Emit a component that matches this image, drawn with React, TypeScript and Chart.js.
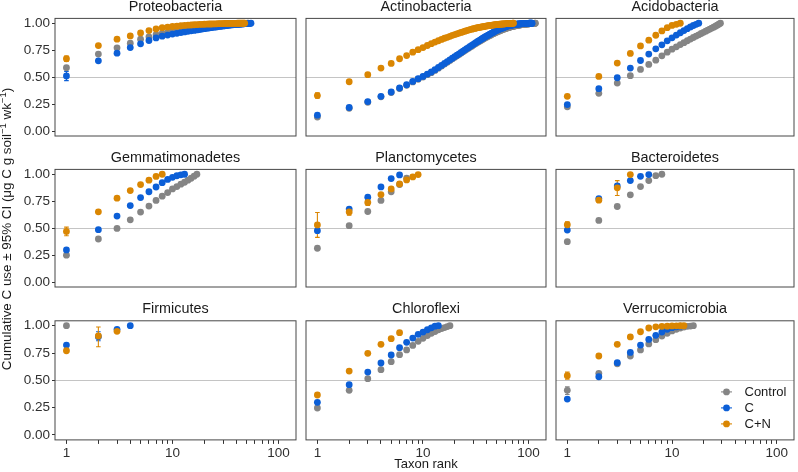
import React, { useEffect, useRef } from "react";
import { Chart, registerables } from "chart.js";
Chart.register(...registerables);

// ---------- labels ----------
const SERIES_NAMES = ["Control", "C", "C+N"];
const SERIES_COLORS = ["#858585", "#0C5FD7", "#DA8602"];
const PANEL_TITLES = [
  "Proteobacteria", "Actinobacteria", "Acidobacteria",
  "Gemmatimonadetes", "Planctomycetes", "Bacteroidetes",
  "Firmicutes", "Chloroflexi", "Verrucomicrobia",
];
const Y_TICKS = [0, 0.25, 0.5, 0.75, 1];
const X_TICKS = [1, 2, 3, 4, 5, 6, 7, 8, 9, 10, 20, 30, 40, 50, 60, 70, 80, 90, 100];
const X_LABELED = [1, 10, 100];
const X_TITLE = "Taxon rank";
const REF_LINE = 0.5;

// ---------- data: cumulative C use by taxon rank (rank = index + 1) ----------
const proteoControl = [0.588,0.714,0.772,0.815,0.852,0.874,0.895,0.907,0.916,0.925,
  0.932,0.938,0.944,0.950,0.954,0.958,0.962,0.965,0.967,0.968,
  0.971,0.973,0.975,0.976,0.978,0.980,0.981,0.983,0.984,0.985,
  0.986,0.987,0.988,0.989,0.990,0.991,0.991,0.992,0.993,0.994,
  0.994,0.995,0.996,0.996,0.997,0.997,0.998,0.998,0.999,0.999,1.0,1.0];
const proteoC = [0.511,0.652,0.723,0.775,0.809,0.840,0.864,0.880,0.890,0.900,
  0.907,0.914,0.920,0.925,0.930,0.934,0.938,0.942,0.946,0.950,
  0.953,0.956,0.959,0.962,0.964,0.966,0.969,0.971,0.973,0.975,
  0.977,0.978,0.980,0.982,0.983,0.985,0.986,0.987,0.988,0.988,
  0.989,0.990,0.991,0.992,0.993,0.994,0.995,0.996,0.996,0.997,
  0.998,0.998,0.999,0.999,1.0];
const proteoCN = [0.671,0.793,0.852,0.883,0.910,0.932,0.947,0.959,0.965,0.970,
  0.973,0.977,0.980,0.982,0.984,0.986,0.988,0.989,0.990,0.991,
  0.992,0.993,0.993,0.994,0.995,0.995,0.996,0.996,0.997,0.997,
  0.998,0.998,0.998,0.998,0.999,0.999,0.999,0.999,0.999,0.999,
  1.0,1.0,1.0,1.0,1.0,1.0,1.0,1.0];

const actinoControl = [0.130,0.212,0.268,0.318,0.358,0.395,0.425,0.456,0.481,0.502,
  0.523,0.542,0.563,0.584,0.603,0.622,0.639,0.655,0.670,0.685,
  0.698,0.711,0.724,0.736,0.748,0.759,0.769,0.779,0.788,0.798,
  0.807,0.815,0.823,0.831,0.838,0.845,0.852,0.859,0.865,0.871,
  0.877,0.882,0.887,0.892,0.897,0.902,0.906,0.911,0.915,0.919,
  0.923,0.926,0.929,0.933,0.936,0.939,0.942,0.945,0.947,0.950,
  0.952,0.955,0.957,0.959,0.961,0.963,0.965,0.967,0.968,0.970,
  0.971,0.973,0.974,0.975,0.977,0.978,0.979,0.980,0.981,0.982,
  0.983,0.984,0.985,0.986,0.986,0.987,0.988,0.988,0.989,0.990,
  0.990,0.991,0.991,0.992,0.992,0.993,0.993,0.994,0.994,0.995,
  0.995,0.996,0.996,0.996,0.997,0.997,0.997,0.998,0.998,0.998,
  0.999,0.999,0.999,0.999,1.0,1.0];
const actinoC = [0.148,0.219,0.274,0.323,0.363,0.400,0.430,0.461,0.486,0.507,
  0.529,0.548,0.569,0.590,0.609,0.628,0.645,0.661,0.676,0.691,
  0.704,0.717,0.730,0.742,0.754,0.765,0.775,0.786,0.795,0.805,
  0.814,0.823,0.831,0.839,0.846,0.854,0.861,0.868,0.875,0.881,
  0.887,0.893,0.898,0.904,0.909,0.914,0.919,0.925,0.930,0.934,
  0.938,0.941,0.945,0.948,0.951,0.954,0.957,0.960,0.963,0.966,
  0.969,0.972,0.974,0.976,0.977,0.979,0.980,0.982,0.983,0.984,
  0.985,0.986,0.987,0.988,0.989,0.990,0.991,0.991,0.992,0.993,
  0.993,0.994,0.994,0.995,0.995,0.996,0.996,0.996,0.997,0.997,
  0.997,0.998,0.998,0.998,0.998,0.999,0.999,0.999,0.999,0.999,
  1.0,1.0,1.0,1.0,1.0,1.0,1.0,1.0];
const actinoCN = [0.330,0.458,0.523,0.585,0.628,0.671,0.700,0.732,0.755,0.775,
  0.794,0.811,0.826,0.838,0.850,0.861,0.870,0.879,0.888,0.895,
  0.902,0.909,0.915,0.921,0.927,0.932,0.937,0.941,0.945,0.949,
  0.952,0.956,0.959,0.961,0.964,0.966,0.968,0.970,0.972,0.975,
  0.976,0.978,0.979,0.981,0.982,0.983,0.985,0.986,0.987,0.988,
  0.989,0.990,0.991,0.991,0.992,0.993,0.993,0.994,0.995,0.995,
  0.996,0.996,0.997,0.997,0.998,0.998,0.998,0.999,0.999,0.999,
  1.0,1.0];

const acidoControl = [0.225,0.351,0.446,0.514,0.572,0.618,0.658,0.698,0.732,0.760,
  0.782,0.802,0.820,0.838,0.853,0.868,0.881,0.893,0.905,0.916,
  0.927,0.937,0.946,0.955,0.964,0.973,0.982,0.991,1.0];
const acidoC = [0.246,0.394,0.495,0.585,0.655,0.714,0.763,0.800,0.837,0.865,
  0.890,0.912,0.932,0.950,0.966,0.979,0.990,1.0];
const acidoCN = [0.323,0.507,0.631,0.720,0.790,0.843,0.889,0.929,0.959,0.980,0.990,1.0];

const gemmaControl = [0.250,0.400,0.498,0.578,0.649,0.705,0.757,0.797,0.830,0.864,
  0.886,0.908,0.926,0.945,0.963,0.982,1.0];
const gemmaC = [0.299,0.486,0.612,0.710,0.784,0.838,0.882,0.922,0.952,0.972,0.986,0.995,1.0];
const gemmaCN = [0.470,0.652,0.778,0.849,0.904,0.945,0.980,1.0];

const planctoControl = [0.314,0.523,0.655,0.757,0.837,0.905,0.963];
const planctoC = [0.477,0.677,0.788,0.883,0.960,0.994];
const planctoCN = [0.530,0.650,0.738,0.812,0.864,0.910,0.947,0.975,0.997];

const bacteroControl = [0.375,0.572,0.701,0.809,0.886,0.941,0.987,1.0];
const bacteroC = [0.483,0.775,0.892,0.941,0.981,0.997];
const bacteroCN = [0.532,0.760,0.874,0.997];

const firmiControl = [1.0];
const firmiC = [0.823,0.900,0.967,1.0];
const firmiCN = [0.771,0.906,0.949];

const chloroControl = [0.247,0.409,0.515,0.598,0.671,0.735,0.778,0.820,0.857,0.885,
  0.910,0.931,0.946,0.962,0.974,0.983,0.992,1.0];
const chloroC = [0.299,0.460,0.576,0.659,0.732,0.799,0.848,0.887,0.921,0.942,0.963,0.981,0.996,1.0];
const chloroCN = [0.366,0.585,0.747,0.830,0.881,0.936];

const verrucoControl = [0.409,0.564,0.652,0.723,0.778,0.833,0.872,0.906,0.930,0.952,
  0.967,0.979,0.988,0.994,0.997,1.0];
const verrucoC = [0.329,0.533,0.662,0.756,0.823,0.875,0.912,0.942,0.967,0.982,0.990,0.996];
const verrucoCN = [0.543,0.723,0.830,0.897,0.945,0.979,0.990,0.994,0.996,0.998,0.999,1.0,1.0];

// 95% CI: [series index (0 Control, 1 C, 2 C+N), rank, low, high]
const proteoErrors = [[0,1,0.575,0.600],[1,1,0.468,0.554],[2,1,0.645,0.697]];
const actinoErrors = [[2,1,0.305,0.355]];
const acidoErrors: number[][] = [];
const gemmaErrors = [[2,1,0.430,0.510]];
const planctoErrors = [[1,1,0.460,0.495],[2,1,0.415,0.645],[2,2,0.620,0.680],[2,3,0.710,0.765]];
const bacteroErrors = [[2,1,0.510,0.560],[1,3,0.870,0.910],[2,3,0.803,0.941]];
const firmiErrors = [[1,2,0.863,0.945],[2,2,0.808,0.988]];
const chloroErrors: number[][] = [];
const verrucoErrors = [[0,1,0.370,0.440],[2,1,0.510,0.575]];

const PANEL_SERIES = [
  [proteoControl, proteoC, proteoCN],
  [actinoControl, actinoC, actinoCN],
  [acidoControl, acidoC, acidoCN],
  [gemmaControl, gemmaC, gemmaCN],
  [planctoControl, planctoC, planctoCN],
  [bacteroControl, bacteroC, bacteroCN],
  [firmiControl, firmiC, firmiCN],
  [chloroControl, chloroC, chloroCN],
  [verrucoControl, verrucoC, verrucoCN],
];
const PANEL_ERRORS = [
  proteoErrors, actinoErrors, acidoErrors,
  gemmaErrors, planctoErrors, bacteroErrors,
  firmiErrors, chloroErrors, verrucoErrors,
];

// ---------- layout ----------
const FONT = "'Liberation Sans', Arial, Helvetica, sans-serif";
const W = 798, H = 472;
const COL_LEFT = [55, 306, 556];
const COL_WIDTH = [242.7, 241.3, 241.3];
const ROW_TOP = [18.4, 169.4, 320.8];
const ROW_HEIGHT = [118.2, 118.2, 119.1];
const Y_AXIS_W = 55;
const X_AXIS_H = 32;
const X_MIN = 0.78, X_MAX = 146.2;
const Y_MIN = -0.045, Y_MAX = 1.045;
const PT_R = 3.4;

function geometry(r: number, c: number) {
  const axisW = c === 0 ? Y_AXIS_W : 0;
  const canvasLeft = c === 0 ? 0 : Math.floor(COL_LEFT[c]) - 4;
  const leftPad = COL_LEFT[c] - canvasLeft - axisW;
  const canvasTop = Math.floor(ROW_TOP[r] - 18);
  const topPad = ROW_TOP[r] - canvasTop;
  const axisH = r === 2 ? X_AXIS_H : 0;
  const canvasBottom = r === 2 ? H : Math.ceil(ROW_TOP[r] + ROW_HEIGHT[r]) + 3;
  const canvasH = canvasBottom - canvasTop;
  const bottomPad = canvasH - topPad - ROW_HEIGHT[r] - axisH;
  const canvasRight = c === 2 ? W : Math.ceil(COL_LEFT[c] + COL_WIDTH[c]) + 2;
  const canvasW = canvasRight - canvasLeft;
  const rightPad = canvasW - leftPad - axisW - COL_WIDTH[c];
  return { canvasLeft, canvasTop, canvasW, canvasH, leftPad, topPad, bottomPad, rightPad, axisW, axisH };
}

function makeDecoPlugin(idx: number) {
  return {
    id: "deco" + idx,
    beforeDatasetsDraw(chart: any) {
      const { ctx, scales } = chart;
      const xs = scales.x, ys = scales.y;
      ctx.save();
      ctx.lineWidth = 1.1;
      for (const e of PANEL_ERRORS[idx]) {
        const [s, rank, lo, hi] = e;
        const px = xs.getPixelForValue(rank);
        const p1 = ys.getPixelForValue(lo);
        const p2 = ys.getPixelForValue(hi);
        ctx.strokeStyle = SERIES_COLORS[s];
        ctx.beginPath();
        ctx.moveTo(px, p1); ctx.lineTo(px, p2);
        ctx.moveTo(px - 2.3, p1); ctx.lineTo(px + 2.3, p1);
        ctx.moveTo(px - 2.3, p2); ctx.lineTo(px + 2.3, p2);
        ctx.stroke();
      }
      ctx.restore();
    },
    afterDraw(chart: any) {
      const { ctx, chartArea: a } = chart;
      ctx.save();
      ctx.strokeStyle = "#474747";
      ctx.lineWidth = 1;
      ctx.strokeRect(a.left, a.top, a.right - a.left, a.bottom - a.top);
      ctx.fillStyle = "#1a1a1a";
      ctx.font = `14.4px ${FONT}`;
      ctx.textAlign = "center";
      ctx.textBaseline = "middle";
      ctx.fillText(PANEL_TITLES[idx], (a.left + a.right) / 2, a.top - 11.5);
      if (idx === 8) {
        ctx.font = `13px ${FONT}`;
        ctx.textAlign = "left";
        SERIES_NAMES.forEach((name, i) => {
          const y = a.bottom - 48 + i * 16;
          const x = a.right - 67.5;
          ctx.strokeStyle = SERIES_COLORS[i];
          ctx.lineWidth = 1.1;
          ctx.beginPath();
          ctx.moveTo(x - 5.5, y); ctx.lineTo(x + 5.5, y);
          ctx.stroke();
          ctx.fillStyle = SERIES_COLORS[i];
          ctx.beginPath();
          ctx.arc(x, y, PT_R, 0, Math.PI * 2);
          ctx.fill();
          ctx.fillStyle = "#1a1a1a";
          ctx.fillText(name, a.right - 49.5, y + 0.5);
        });
      }
      ctx.restore();
    },
  };
}

function buildConfig(idx: number) {
  const r = Math.floor(idx / 3), c = idx % 3;
  const g = geometry(r, c);
  const datasets = [2, 1, 0].map((s) => ({
    label: SERIES_NAMES[s],
    data: PANEL_SERIES[idx][s].map((v, i) => ({ x: i + 1, y: v })),
    backgroundColor: SERIES_COLORS[s],
    borderColor: SERIES_COLORS[s],
    pointRadius: PT_R,
    pointBorderWidth: 0,
    showLine: false,
  }));
  const zeroPad = (s: any) => {
    s.paddingTop = 0; s.paddingBottom = 0; s.paddingLeft = 0; s.paddingRight = 0;
  };
  return {
    type: "scatter",
    data: { datasets },
    plugins: [makeDecoPlugin(idx)],
    options: {
      responsive: false,
      animation: false,
      events: [],
      devicePixelRatio: 1,
      layout: { padding: { left: g.leftPad, right: g.rightPad, top: g.topPad, bottom: g.bottomPad } },
      plugins: { legend: { display: false }, tooltip: { enabled: false }, title: { display: false } },
      scales: {
        x: {
          type: "logarithmic",
          min: X_MIN,
          max: X_MAX,
          display: r === 2,
          afterBuildTicks: (s: any) => { s.ticks = X_TICKS.map((v) => ({ value: v })); },
          afterFit: (s: any) => { s.height = g.axisH; zeroPad(s); },
          ticks: {
            autoSkip: false,
            maxRotation: 0,
            minRotation: 0,
            padding: 1,
            color: "#303030",
            font: { family: FONT, size: 13.5 },
            callback: (v: any) => (X_LABELED.includes(Number(v)) ? String(v) : ""),
          },
          grid: { drawOnChartArea: false, drawTicks: true, tickLength: 4, tickColor: "#333", tickWidth: 1 },
          border: { display: false },
          title: {
            display: idx === 7,
            text: X_TITLE,
            color: "#1a1a1a",
            font: { family: FONT, size: 13 },
            padding: { top: 0, bottom: 0 },
          },
        },
        y: {
          type: "linear",
          min: Y_MIN,
          max: Y_MAX,
          afterBuildTicks: (s: any) => { s.ticks = Y_TICKS.map((v) => ({ value: v })); },
          afterFit: (s: any) => { s.width = g.axisW; zeroPad(s); },
          ticks: {
            display: c === 0,
            padding: 2,
            color: "#303030",
            font: { family: FONT, size: 13.5 },
            callback: (v: any) => Number(v).toFixed(2),
          },
          grid: {
            color: (ctx: any) => (ctx.tick && ctx.tick.value === REF_LINE ? "#c4c4c4" : "rgba(0,0,0,0)"),
            lineWidth: 1,
            drawTicks: c === 0,
            tickLength: 3,
            tickColor: "#333",
          },
          border: { display: false },
        },
      },
    },
  };
}

function Panel({ idx }: { idx: number }) {
  const ref = useRef<HTMLCanvasElement | null>(null);
  const r = Math.floor(idx / 3), c = idx % 3;
  const g = geometry(r, c);
  useEffect(() => {
    if (!ref.current) return;
    const chart = new Chart(ref.current, buildConfig(idx) as any);
    return () => chart.destroy();
  }, [idx]);
  return (
    <canvas
      ref={ref}
      width={g.canvasW}
      height={g.canvasH}
      style={{ position: "absolute", left: g.canvasLeft, top: g.canvasTop, width: g.canvasW, height: g.canvasH }}
    />
  );
}

export default function App() {
  const sup: React.CSSProperties = { fontSize: 9.5, verticalAlign: "super", lineHeight: 0 };
  return (
    <div style={{ position: "fixed", left: 0, top: 0, width: W, height: H, background: "#fff", overflow: "hidden" }}>
      {PANEL_TITLES.map((_, i) => (
        <Panel key={i} idx={i} />
      ))}
      <div
        style={{
          position: "absolute",
          left: 9 - 200,
          top: 229 - 10,
          width: 400,
          height: 20,
          lineHeight: "20px",
          textAlign: "center",
          transform: "rotate(-90deg)",
          font: `13.4px ${FONT}`,
          color: "#1a1a1a",
          whiteSpace: "nowrap",
        }}
      >
        Cumulative C use ± 95% CI (μg C g soil<span style={sup}>−1</span> wk<span style={sup}>−1</span>)
      </div>
    </div>
  );
}
